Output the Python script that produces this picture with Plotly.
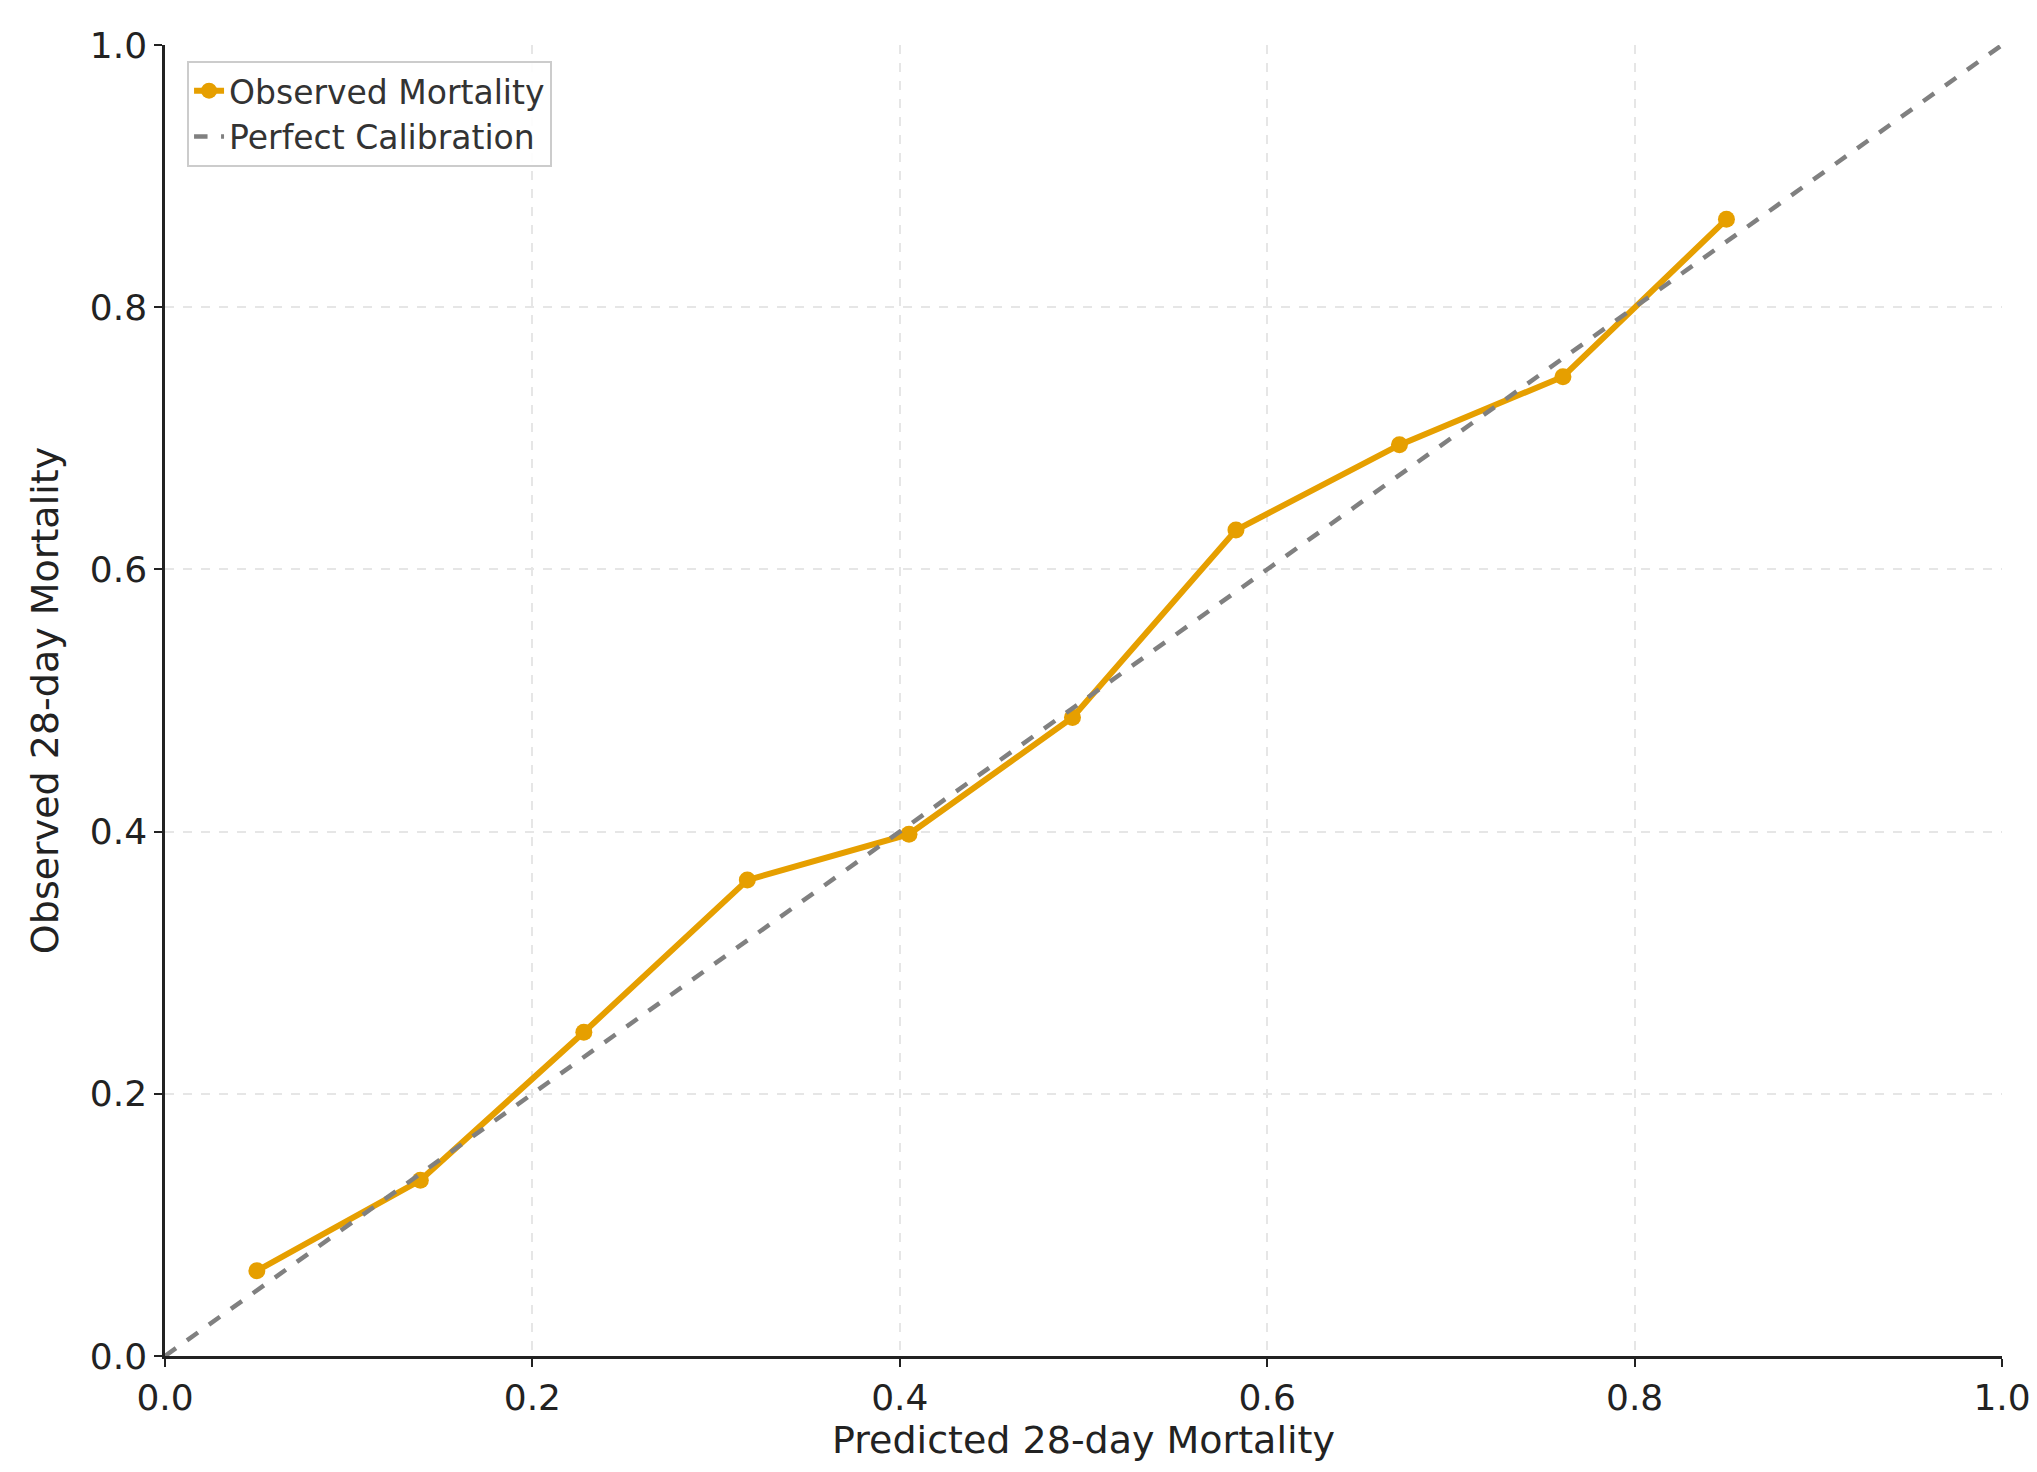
import plotly.graph_objects as go

pred = [0.05, 0.139, 0.228, 0.317, 0.405, 0.494, 0.583, 0.672, 0.761, 0.850]
obs = [0.065, 0.134, 0.247, 0.363, 0.398, 0.487, 0.630, 0.695, 0.747, 0.867]
diag = [0.0, 1.0]

fig = go.Figure()
fig.add_trace(go.Scatter(x=pred, y=obs, mode="lines+markers", name="Observed Mortality",
                         line=dict(color="#E69F00", width=6), marker=dict(size=17, color="#E69F00")))
fig.add_trace(go.Scatter(x=diag, y=diag, mode="lines", name="Perfect Calibration",
                         line=dict(color="gray", width=4.5, dash="dash")))
ax = dict(range=[0, 1], dtick=0.2, tickformat=".1f", showgrid=True, gridcolor="#e6e6e6",
          griddash="dash", gridwidth=1.5, zeroline=False, showline=True, linecolor="#222",
          linewidth=2.5, ticks="outside", ticklen=8, tickwidth=2, tickcolor="#222",
          tickfont=dict(size=36, color="#222"))
fig.update_xaxes(**ax, title=dict(text="Predicted 28-day Mortality", font=dict(size=38, color="#222"), standoff=10))
fig.update_yaxes(**ax, title=dict(text="Observed 28-day Mortality", font=dict(size=38, color="#222"), standoff=20))
fig.update_layout(width=2037, height=1472, plot_bgcolor="white", paper_bgcolor="white",
                  font=dict(family="DejaVu Sans"),
                  margin=dict(l=157, r=43, t=37, b=124),
                  legend=dict(x=0.012, y=0.988, xanchor="left", yanchor="top",
                              bgcolor="rgba(255,255,255,0.9)", bordercolor="#ccc", borderwidth=2,
                              font=dict(size=33, color="#333")))
fig.write_html("out.html")
